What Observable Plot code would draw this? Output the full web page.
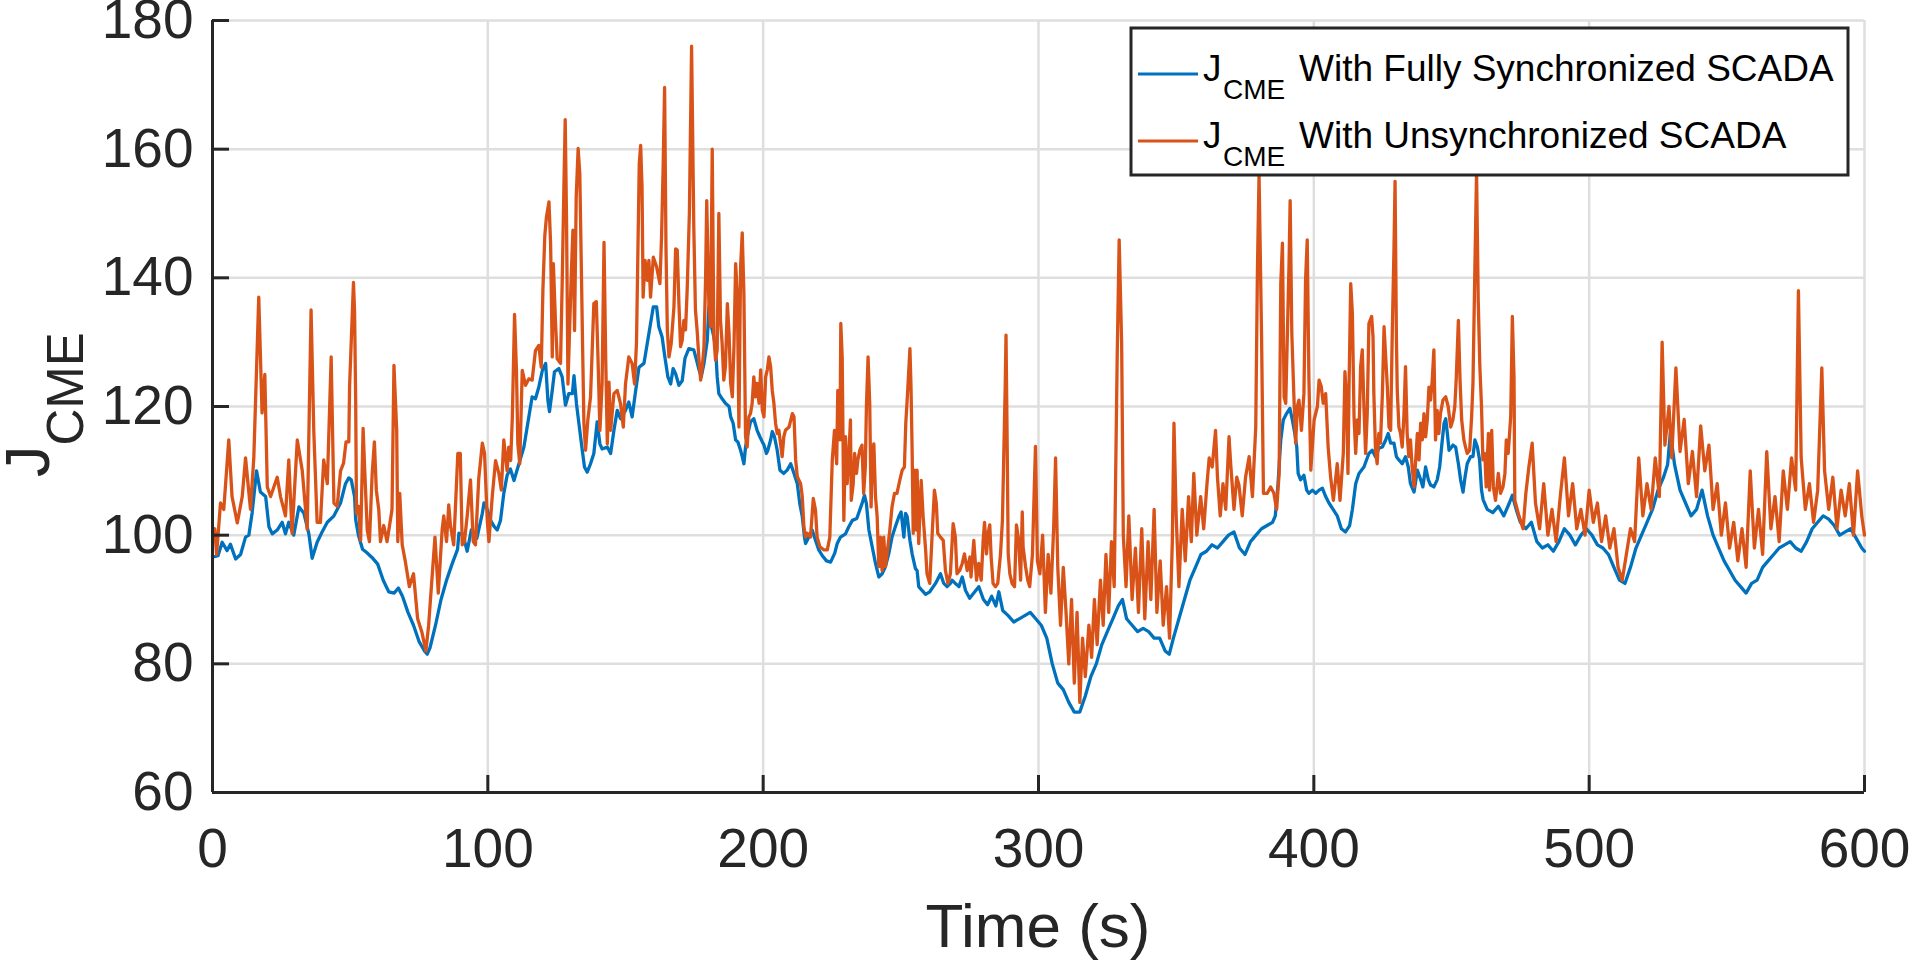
<!DOCTYPE html>
<html>
<head>
<meta charset="utf-8">
<script src="https://cdn.jsdelivr.net/npm/d3@7"></script>
<script src="https://cdn.jsdelivr.net/npm/@observablehq/plot@0.6"></script>
<style>
html, body { margin: 0; padding: 0; background: #fff; overflow: hidden; }
</style>
</head>
<body>
<div id="chart"></div>
<script>
// ---------- data ----------
const xTicks = [0, 100, 200, 300, 400, 500, 600];
const yTicks = [60, 80, 100, 120, 140, 160, 180];
const xLabel = "Time (s)";
const yLabelMain = "J";
const yLabelSub = "CME";
const seriesNames = ["With Fully Synchronized SCADA", "With Unsynchronized SCADA"];
const seriesColors = ["#0072BD", "#D95319"];

// J_CME with fully synchronized SCADA  [time (s), value]
const synced = [
[0,96.6],[2,96.8],[3.5,98.9],[5.3,97.6],[6.5,98.6],[8.4,96.3],[10.2,97],[12,99.7],[13.2,100],[14.4,103.5],
[16,110],[17.4,106.7],[19.3,106],[20.5,101.3],[21.7,100.2],[23.5,100.8],[25.3,102],[26.5,100.2],[27.7,102],[29.5,100],
[31.4,104.4],[33.2,103.4],[35,100.2],[36.2,96.4],[38,98.9],[39.8,100.5],[41.7,102],[44.1,103],[46.5,105],[48.3,108],
[49.5,108.9],[50.4,108.6],[51.6,106],[52,102.4],[53,100],[54.5,97.8],[56,97.3],[58,96.5],[60,95.5],[62,93],
[64,91.2],[66,91],[67.5,91.8],[69,90.5],[71,88],[73,86],[75,83.5],[77,82],[78,81.5],[79,82.5],
[81,86],[83,90],[85,93],[87,95.5],[89,97.8],[89.5,100.3],[91,100],[92.5,97.5],[94,100.8],[96,99.5],
[98,103.4],[98.6,105],[99.8,104],[101,102.3],[102.2,101.4],[103.4,100.8],[104.6,102.3],[105.8,106.5],[107,109.3],[108.2,110.3],
[109.5,108.5],[111.3,111.1],[113.1,113.7],[114.9,118.4],[116.1,121.5],[117.3,121.2],[118.5,123],[119.8,125.6],[121,126.7],[121.8,121],
[122.4,119.2],[123.4,122.5],[124.2,125.4],[125.8,125.9],[127,124.6],[128.2,120.2],[129.4,122],[130.7,122],[131.3,124.8],[132.2,120.4],
[133.1,117.3],[134.3,113.2],[135.1,110.6],[136.1,109.8],[137.3,111.1],[138.5,112.7],[139.7,117.6],[140.7,114.2],[141.5,113.4],[143.4,113.7],
[144.6,112.7],[145.8,116.3],[147,119.4],[148.2,118.1],[150,119.4],[151.2,120.7],[152.4,118.4],[153.7,122.5],[154.9,126.1],[156.7,126.7],
[157.9,129.8],[159.1,132.9],[160.1,135.5],[161.3,135.5],[162.1,132.4],[163.3,130.8],[164.3,127.7],[165.4,124.6],[166.4,123.5],[167.3,125.9],
[168.2,125.1],[169.4,123.3],[170.6,124],[171.6,127.5],[173,129],[174.8,128.8],[175.8,127.2],[176.7,125.7],[177.5,124.6],[178.5,126.7],
[179.7,130.3],[180.3,135.5],[180.9,132.9],[181.5,131.9],[182.1,130.8],[182.7,129.3],[183.3,124.6],[183.9,122],[185.1,121.2],[186.3,120.5],
[187.6,120],[188.2,118.4],[189.1,117.4],[190,114.8],[190.8,114.5],[191.8,113.2],[192.4,112.2],[193,111.1],[193.6,113.7],[194.2,115.3],
[195.4,117.6],[196.6,118.1],[197.8,116.3],[198.8,115.3],[199.7,114.5],[200.3,114],[201.2,112.7],[201.7,113.2],[202.7,114.8],[203.3,116.1],
[204.1,115.3],[205.1,113.2],[206.1,110.1],[207.5,109.6],[208.7,110.1],[210,111.1],[211.2,109.6],[212.4,108],[213.3,104.9],[214.2,102.9],
[215,99.7],[215.4,98.7],[216.6,99.7],[217.8,100.8],[219,99.2],[220.2,97.7],[221.5,96.8],[223,96],[224.5,95.8],[226,97.2],
[226.9,98.7],[228.1,99.7],[229.9,100.2],[231.1,101.3],[232.4,102.3],[234,102.6],[235.9,104.9],[236.8,106.2],[237.5,104.9],[238.4,100.8],
[239.6,98.2],[240.8,95.6],[242,93.5],[243.2,94],[244.4,95.1],[245.6,97.1],[246.8,99.7],[248,101.3],[249.3,102.9],[250.1,103.6],
[251.1,99.7],[251.7,103.4],[252.3,102.9],[253.3,99.2],[254.1,97.1],[255.3,94.8],[255.9,94.5],[256.5,92],[257.7,91.4],[259,90.8],
[260.5,91.2],[262.6,92.5],[264.4,94],[265.6,92.5],[266.8,92],[268,92.5],[268.6,93],[269.8,92.5],[271.1,92],[272.3,93.5],
[273.5,91.4],[275,90.2],[276.5,91],[278.3,92],[280,90],[281.5,89.2],[283,90.5],[284.5,89],[285.6,91.2],[287,88.3],
[289,87.5],[291,86.5],[293,87],[295,87.5],[297,88],[299,87],[301,86],[303,84],[305,80],[307,77],
[309,76],[311,74],[313,72.5],[315,72.5],[317,75],[319,78],[321,80],[323,83],[325,85],[327,87],
[329,89],[330.5,90],[332,87],[334,86],[336,85],[338,85.5],[340,85],[342,84],[344,84],[346,82],
[347.5,81.5],[349,84],[351,87],[353,90],[355,93],[357,95],[359,97],[361,97.5],[363,98.5],[365,98],
[367,99],[369,100],[371,100.5],[373,98],[375,97],[377,99],[379,100],[381,101],[383,101.5],[385,102],
[386,103],[387,108],[388,114.8],[388.9,117.9],[390.1,118.9],[391.3,119.7],[392.2,117.9],[393.1,115.8],[393.8,113.7],[394.3,109.6],
[395.2,108.6],[396.4,109.3],[397.4,107],[398.2,106.5],[399.5,107],[400.7,106.5],[401.9,107],[403.1,107.3],[404.3,106],[405.5,105],
[407,104],[408.5,103],[410,101],[411.5,100.5],[413,101.5],[414,104],[415.2,108],[416.4,109.6],[418.2,110.6],[420,112.7],
[421.2,113.2],[422.4,112.2],[423.6,113.5],[424.9,113.7],[426.1,114.8],[427,115.8],[427.9,114.3],[429.1,114.3],[430,112.2],[430.9,111.7],
[432.1,111.1],[433.3,112.2],[434.3,110.6],[435.1,108],[436.4,106.7],[437.6,110.1],[438.8,108.6],[439.6,107.5],[440.6,110.6],[441.6,108.6],
[442.4,107.8],[443.6,107.5],[444.8,108.6],[445.7,110.6],[446.4,113.7],[447.3,117.4],[447.9,118.1],[448.5,115.8],[449.1,113.2],[449.7,113.5],
[450.5,114],[451.5,113.7],[452.5,111.1],[453.3,108.6],[454.2,106.7],[454.9,109],[455.7,111.1],[456.9,112.2],[457.8,112.2],[458.5,114.8],
[459.4,113.7],[460.2,111.7],[460.9,107],[461.5,105.5],[463,104],[465,103.5],[467,104.5],[469,103],[471,105],[472.1,106.2],
[473.5,104],[475,102],[477,101],[479,102],[481,99],[483,98],[485,98.5],[487,97.5],[489,99],[491,101],
[493,100],[495,98.5],[497,100],[499,101],[501,100],[503,98.5],[505,98],[507,97],[509,95],[511,93],
[513,92.5],[515,95],[517,98],[519,100],[521,102],[523,104],[525,107],[527,109],[528.5,111],[529.5,116],
[531,111],[533,107],[535,105],[537,103],[539,104],[541,107],[543,103],[545,100],[547,98],[549,96],
[551,94.5],[553,93],[555,92],[557,91],[559,92.5],[561,93],[563,95],[565,96],[567,97],[569,98],
[571,98.5],[573,99],[575,98],[577,97.5],[579,99],[581,101],[583,102],[585,103],[587,102.5],[589,101.5],
[591,100],[593,100.5],[595,101],[597,99.5],[599,98],[600,97.5]
];

// J_CME with unsynchronized SCADA  [time (s), value]
const unsynced = [
[0,100],[0.8,101],[1.5,97],[2.9,105],[4.1,104],[5.9,114.8],[7.1,106],[9,101.9],[10.8,106],[12,112],
[13.8,104],[15,112],[16.8,137],[18,119],[19,125],[19.9,107.5],[21.1,106],[23.5,109],[24.7,106],[26.5,103],
[27.7,111.7],[28.9,100.3],[30.8,114.8],[32.6,110],[34.4,100.9],[35.8,135],[36.8,116],[38,102],[39.2,102],[40.4,111.7],
[41.7,108],[43.1,127.7],[44.1,105],[45.3,104.5],[46.5,110],[47.6,111.2],[48.5,114.5],[49.5,114.5],[49.8,123.3],[51.2,139.3],
[51.6,134.7],[52,121],[52.3,103.4],[53,104.5],[53.8,99.2],[54.7,116.6],[55.2,111],[56.2,100.8],[57,99],[58,109.6],
[58.8,114.5],[59.5,107],[60.4,103.9],[61,99],[62.2,101.5],[63.4,99],[65.2,104],[65.9,126.4],[66.9,116.3],[67.3,99],
[68,106.5],[68.9,98.5],[70,96],[71.5,92],[73,94],[74.5,87],[76,85],[77.5,82],[78.5,86],[79.5,92],
[80.8,99.7],[82,91],[83.4,100.8],[84,103],[85,99],[85.8,104.7],[86.4,101.6],[87.6,98.5],[88.2,104],[89.1,112.7],
[90,112.7],[90.7,98.5],[91.5,99],[92.5,103],[93.7,108.6],[94.7,99],[95.5,98.5],[96.7,108.8],[98,114.3],[98.8,112.7],
[99.8,102.3],[100.4,99],[101.6,106],[102.8,111.6],[104,109.6],[104.9,107],[105.8,114.8],[107,110],[107.6,113.7],[108.3,111.6],
[108.9,118.4],[109.7,134.3],[110.4,125.6],[110.9,114.2],[111.6,111.1],[112.5,125.6],[113.7,123.3],[114.9,124.3],[116.1,124.1],[117.3,128.7],
[118.5,129.5],[119.4,126.1],[120,138.1],[120.7,146.6],[121.3,149.5],[122.2,151.8],[122.8,145.3],[123.4,127.7],[123.8,142.2],[124.6,132.9],
[125.2,127.4],[126.4,126.7],[127,139.1],[127.6,153.4],[128.1,164.6],[128.6,148.4],[129.1,123.5],[129.8,133.4],[130.3,140.4],[130.9,147.4],
[131.5,131.8],[132.1,152.6],[132.8,160.1],[133.4,156.2],[133.9,143.2],[134.4,129.8],[134.9,117.3],[135.5,113.2],[136.3,117.8],[137.3,121.5],
[138.5,136],[139.4,136.3],[140,127.7],[140.7,116.3],[141.5,123.5],[142.2,145.5],[142.8,127.7],[143.4,114.2],[144,123.8],[144.6,116.3],
[145.8,122],[147,122.5],[148.2,120.4],[149.2,116.8],[150,123.5],[151.2,127.7],[152.4,126.7],[153.3,123.5],[154,130],[154.5,144],
[155,157.8],[155.5,160.6],[156,154.1],[156.4,137],[157.1,142.7],[157.9,139.6],[158.5,142.7],[159.1,137],[160.1,143.2],[161.3,141.7],
[162.5,139.1],[163.1,146.4],[163.7,157.8],[164.2,169.6],[164.7,144.8],[165.2,131.8],[165.8,127.7],[166.6,129.8],[167.6,135.5],[168.2,144.5],
[168.8,144.3],[169.4,136],[170,129.3],[170.6,130.3],[171.2,133.4],[171.8,131.9],[172.4,138.1],[173.2,150],[174,176],[174.8,148],
[175.4,135],[176,131.9],[176.7,127.2],[177.3,124.1],[177.9,126.2],[178.5,129.3],[179.1,140.2],[179.5,152],[180.3,135.5],[180.9,132.4],
[181.5,160],[182.1,130.8],[182.7,127.2],[183.3,128.8],[183.9,150],[184.5,133.4],[185.1,129.8],[185.7,124.1],[186.3,126.2],[187,136],
[187.6,131.4],[188.2,123.6],[188.8,121.5],[189.4,129.3],[190,142.2],[190.6,137.6],[191.2,116.8],[191.8,141.7],[192.4,147],[193,137.6],
[193.6,115.3],[194.2,113.7],[194.8,118.4],[195.4,118.9],[196,120.5],[196.6,124.6],[197.2,121.5],[197.8,123.6],[198.5,120.5],[199.1,125.7],
[199.7,119.4],[200.3,118.4],[200.9,124.6],[201.5,125.7],[202.1,127.7],[202.7,126.2],[203.3,122.5],[203.9,120.5],[204.5,117.4],[205.1,115.8],
[205.7,116.3],[206.3,114.3],[206.9,112.2],[207.5,115.3],[208.1,116.3],[209.4,116.8],[210.6,118.9],[211.2,118.4],[211.8,111.7],[212.4,109.1],
[213.6,108],[214.2,106],[214.8,101.3],[215.4,99.7],[216,100.3],[217.2,99.7],[218.2,105.7],[219,103.9],[219.6,99.7],[220.6,98.2],
[222.1,97.7],[223.3,97.7],[224.2,99.7],[225.1,111.7],[225.9,116.3],[226.7,111.1],[227.1,122.5],[227.9,114.8],[228.2,132.9],[228.7,127.7],
[229.3,102.3],[229.9,115.3],[230.5,108],[231.1,112.2],[231.7,117.9],[232,105.4],[232.7,108],[233.2,112.7],[233.9,109.6],[234.4,111.7],
[235.1,113.2],[235.9,114],[236.5,106.5],[237.1,110.6],[237.5,120],[238.1,127.7],[238.7,120.5],[239.2,104.4],[239.7,112.7],[240.2,114.2],
[240.8,106],[241.4,102.9],[242,95.1],[242.6,99.7],[243.2,94.5],[243.8,99.7],[244.4,95.1],[245,97.1],[246,100.8],[246.8,104.4],
[247.7,106.5],[248.6,106.5],[249.6,108.5],[250.5,110.1],[251.3,110.6],[251.8,117.4],[252.5,122.5],[253.3,129],[253.7,123],[254.1,113.2],
[254.5,100.3],[255,110.1],[255.6,100.8],[255.9,110.1],[256.5,98.7],[257.4,108.5],[258.1,102.9],[259,97.7],[259.5,94],[260.5,92.5],
[261.4,100.3],[262.2,107],[262.9,104.9],[263.4,100.3],[264.4,99.7],[265.4,99.2],[266.2,94.5],[267.1,92.5],[268,94],[269,101.8],
[269.8,99.7],[270.4,94],[271.4,94.5],[272.3,95.6],[273.1,97.1],[274.1,94.5],[275.1,96.6],[275.5,93.5],[276.5,99.2],[277.5,93],
[278.3,95.6],[279.2,93],[279.9,99.2],[280.4,102],[281.1,97.1],[281.7,100.3],[282.3,101.6],[282.8,96.6],[283.5,92.5],[284.4,92],
[285.2,92.5],[286.2,97.1],[286.9,102.3],[287.4,112.7],[287.9,123],[288.2,131.1],[288.6,115.3],[289,97.1],[289.6,94],[290.4,92.5],
[291.3,92],[292,101.6],[292.8,99.2],[293.5,93],[294.1,103.6],[294.4,98.2],[295.3,95.1],[296.1,93],[296.8,92],[297.8,97],
[298.9,113.8],[299.6,96],[300.5,94],[301.5,100],[302.5,88],[303.5,97],[304.5,91],[305.5,101],[306.2,112],[307,95],
[308,86],[309,95],[310,88],[311,80],[312,90],[313,77],[314,88],[315,74],[316,84],[317,78],
[318.3,86],[319.3,81],[320.3,90],[321.3,83],[322.5,93],[323.5,86],[324.5,97],[325.5,88],[326.5,99],[327.5,92],
[328.6,128.3],[329.3,145.9],[330.2,129.8],[330.8,100],[331.8,92],[332.8,103],[334,90],[335.2,98],[336.3,88],[337.5,101],
[338.6,87],[339.8,99],[340.8,90],[342,104],[343,88],[344.2,96],[345.3,86],[346.5,92],[347.6,84],[348.6,99],
[349.2,117.4],[350,103],[351,92],[352.2,104],[353.3,96],[354.5,106],[355.5,99],[356.4,109.6],[357.5,100],[358.9,106],
[360,101],[361.2,108],[362,112],[363.1,110.6],[364.3,116.3],[365,109],[366,103],[367,108],[368,104],[369.2,115.3],
[369.8,111.1],[371,104],[372,109],[372.8,107.8],[374,103],[375.2,109],[376.5,112.2],[377.7,106],[378.9,116.8],[379.5,140.7],
[380.1,156],[381,131.4],[381.7,106.5],[383.1,106.5],[384.3,107.5],[385.5,106.5],[386.5,104],[387.4,109.6],[388,139.1],[388.6,145.4],
[389.2,121.5],[389.8,120.5],[390.4,131.4],[391,142.3],[391.4,152],[392,131.4],[392.8,121],[393.4,114.3],[394,120],[394.6,121],
[395.5,116.3],[396.4,122],[397,139.7],[397.6,145.9],[398.2,124.6],[398.9,110.1],[400.1,117.9],[401.3,120],[401.9,124.1],[402.7,123.1],
[403.4,120.5],[404.3,122],[405.2,113.7],[406.1,109],[407.1,105.4],[408.5,111.1],[409.5,105.4],[410.7,112.7],[411.3,125.4],[411.9,121],
[412.4,109.6],[412.8,123.6],[413.4,139.1],[414,134.5],[414.6,118.4],[415.2,112.7],[415.8,117.9],[416.4,115.8],[417,126.2],[417.6,128.8],
[418.2,120],[418.8,112.7],[419.4,118.9],[420,132.9],[421,134],[421.5,130.8],[421.8,122],[422.4,113.2],[423,111.1],[423.6,115.8],
[424.2,114.3],[424.9,122],[425.5,132.4],[426.1,127.7],[426.7,123],[427.3,116.8],[427.9,116.3],[428.5,131.9],[429.1,144.3],[429.5,155],
[430,130.3],[430.3,122.5],[430.9,116.8],[431.5,115.8],[432.1,113.7],[432.7,118.4],[433.3,126.2],[433.9,115.8],[434.5,112.2],[435.1,114.8],
[435.7,110.6],[436.4,107.5],[437,111.7],[437.6,115.8],[438.2,111.7],[438.8,117.4],[439.4,114.8],[440,118.9],[440.6,115.3],[441.2,117.9],
[441.8,123],[442.4,121],[443,124.1],[443.6,128.8],[444.2,114.8],[444.8,119.4],[445.4,115.8],[446,118.9],[446.9,121],[447.9,121.5],
[448.8,120],[449.7,116.8],[450.5,117.9],[451.2,120],[451.7,124.1],[452.5,133.4],[453.1,124.1],[453.7,117.9],[454.5,114.8],[455.1,113.7],
[455.7,112.7],[456.6,113.2],[457.3,118.4],[457.8,123.6],[458.5,141.7],[459.1,156.5],[459.7,136.5],[460.3,126.2],[460.9,120],[461.4,111.7],
[462.1,112.7],[462.6,107.5],[463.4,115.8],[463.8,107],[464.6,116.3],[465.2,107.5],[466,105.4],[467,109.6],[467.8,106.5],[468.7,107.5],
[469.4,109.6],[469.9,114.8],[470.6,112.7],[471.5,118.4],[472.1,134],[472.7,124.6],[473,105.4],[474.5,103],[476,101],[477,106.5],
[478.1,110.6],[479.3,114.3],[480.5,105],[482,101],[483.5,108],[485,100],[486.5,104],[488,99],[489.5,106],[491,112],
[492.5,103],[494,108],[495.5,101],[497,104],[498.5,100],[500,107],[501.5,102],[503,105],[504.5,99],[506,103],
[507.5,98],[509,101],[510.5,95],[512,93],[513.5,97],[515,101],[516.5,99],[518,112],[519.5,103],[521,108],
[522.5,104],[524,112],[525.5,106],[526.5,130],[527.5,114],[529,120],[530,112],[531.5,126],[533,113],[534.5,118],
[536,108],[537.5,113],[539,106],[540.5,117],[542,110],[543.5,114],[545,104],[546.5,108],[548,100],[549.5,105],
[551,98],[552.5,102],[554,96],[555.5,101],[557,95],[558.5,110],[560,98],[561.5,104],[563,97],[564.5,113],
[566,101],[567.5,106],[569,99],[570.5,110],[572,104],[573.5,112],[575,107],[576,138],[577,112],[578.5,104],
[580,108],[581.5,102],[583,107],[584.5,126],[585.5,110],[587,104],[588.5,109],[590,101],[591.5,107],[593,103],
[594.5,108],[596,100],[597.5,110],[599,103],[600,100]
];

// ---------- layout / style ----------
const W = 1914, H = 963;
const mL = 212, mR = 50, mT = 20, mB = 171;
const frameW = W - mL - mR, frameH = H - mT - mB;
const tickLen = 17;
const ink = "#262626";
const gridColor = "#dedede";
const font = "'Liberation Sans', Arial, Helvetica, sans-serif";

const toRows = arr => arr.map(([t, v]) => ({t, v}));

const chart = Plot.plot({
  width: W,
  height: H,
  marginLeft: mL,
  marginRight: mR,
  marginTop: mT,
  marginBottom: mB,
  x: {domain: [xTicks[0], xTicks[xTicks.length - 1]]},
  y: {domain: [yTicks[0], yTicks[yTicks.length - 1]]},
  style: {fontFamily: font, color: ink, background: "#fff", overflow: "visible"},
  marks: [
    Plot.gridX(xTicks, {stroke: gridColor, strokeOpacity: 1, strokeWidth: 2.5}),
    Plot.gridY(yTicks, {stroke: gridColor, strokeOpacity: 1, strokeWidth: 2.5}),
    Plot.line(toRows(synced), {x: "t", y: "v", stroke: seriesColors[0], strokeWidth: 3.3, strokeLinejoin: "round"}),
    Plot.line(toRows(unsynced), {x: "t", y: "v", stroke: seriesColors[1], strokeWidth: 3.3, strokeLinejoin: "round"}),
    Plot.ruleX([xTicks[0]], {stroke: ink, strokeWidth: 3}),
    Plot.ruleY([yTicks[0]], {stroke: ink, strokeWidth: 3}),
    Plot.tickX(xTicks, {x: d => d, stroke: ink, strokeWidth: 3, insetTop: frameH - tickLen}),
    Plot.tickY(yTicks, {y: d => d, stroke: ink, strokeWidth: 3, insetRight: frameW - tickLen}),
    Plot.axisX({ticks: xTicks, tickSize: 0, tickPadding: 35, fontSize: 55, label: null, fill: ink}),
    Plot.axisY({ticks: yTicks, tickSize: 0, tickPadding: 19, fontSize: 55, label: null, fill: ink})
  ]
});

document.getElementById("chart").appendChild(chart);

const svg = d3.select(chart);

// x-axis label
svg.append("text")
  .attr("x", mL + frameW / 2)
  .attr("y", 947)
  .attr("text-anchor", "middle")
  .attr("font-size", 62)
  .attr("fill", ink)
  .text(xLabel);

// y-axis label J_CME
const yl = svg.append("text")
  .attr("transform", "translate(49,477) rotate(-90)")
  .attr("text-anchor", "start")
  .attr("font-size", 63)
  .attr("fill", ink);
yl.append("tspan").text(yLabelMain);
yl.append("tspan").attr("dy", 34).attr("font-size", 51).text(yLabelSub);

// legend
const lg = svg.append("g").attr("text-anchor", "start");
lg.append("rect")
  .attr("x", 1131).attr("y", 28).attr("width", 717).attr("height", 147)
  .attr("fill", "#fff").attr("stroke", ink).attr("stroke-width", 3);
seriesNames.forEach((name, i) => {
  const yLine = 74 + i * 67;
  const yBase = 81 + i * 67;
  lg.append("line")
    .attr("x1", 1138).attr("x2", 1198).attr("y1", yLine).attr("y2", yLine)
    .attr("stroke", seriesColors[i]).attr("stroke-width", 3);
  const t = lg.append("text").attr("text-anchor", "start").attr("font-size", 37).attr("fill", "#000");
  t.append("tspan").attr("x", 1203).attr("y", yBase).text(yLabelMain);
  t.append("tspan").attr("x", 1223).attr("y", yBase + 18).attr("font-size", 28).text(yLabelSub);
  t.append("tspan").attr("x", 1299).attr("y", yBase).text(name);
});
</script>
</body>
</html>
